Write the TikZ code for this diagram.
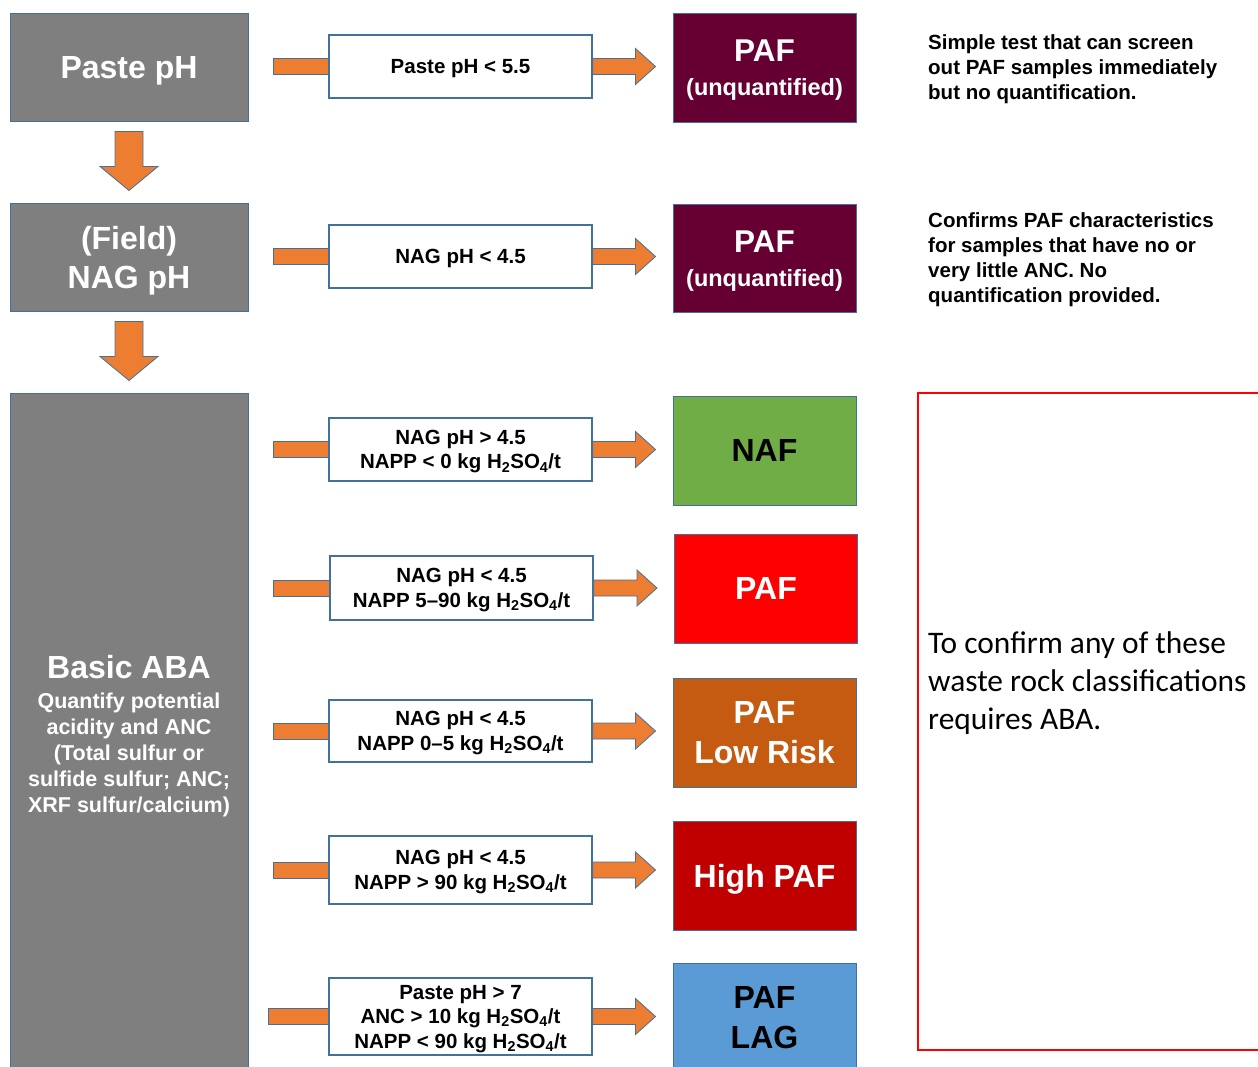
\documentclass[tikz,border=0pt]{standalone}
\usepackage{fontspec}
\setmainfont{Liberation Sans}
\newfontfamily\carlito{Carlito}
\usetikzlibrary{calc}
\definecolor{boxgray}{HTML}{7F7F7F}
\definecolor{edgeblue}{HTML}{41719C}
\definecolor{maroon}{HTML}{660033}
\definecolor{nafgreen}{HTML}{70AD47}
\definecolor{pafred}{HTML}{FF0000}
\definecolor{lowrisk}{HTML}{C55A11}
\definecolor{highpaf}{HTML}{C00000}
\definecolor{lagblue}{HTML}{5B9BD5}
\definecolor{arrorange}{HTML}{ED7D31}
\newcommand\mkdownarrow[2]{\draw[orangeshape] let \p1=(#1.south), \p2=(#2.north) in
 (\x1-14pt,\y1-10pt) -- (\x1+14pt,\y1-10pt) -- (\x1+14pt,\y2+36pt) -- (\x1+29pt,\y2+36pt) -- (\x1,\y2+12pt) -- (\x1-29pt,\y2+36pt) -- (\x1-14pt,\y2+36pt) -- cycle;}
\newcommand\mkrightarrow[2]{\draw[orangeshape] let \p1=(#1.east), \p2=(#2.west) in
 (\x1,\y1+8pt) -- (\x2-37pt,\y1+8pt) -- (\x2-37pt,\y1+18pt) -- (\x2-17pt,\y1) -- (\x2-37pt,\y1-18pt) -- (\x2-37pt,\y1-8pt) -- (\x1,\y1-8pt) -- cycle;}
\newcommand\mkleftbar[3]{\draw[orangeshape] let \p1=(#1.east), \p2=(#2.west) in (\x1+#3,\y2-8pt) rectangle (\x2,\y2+8pt);}
\begin{document}
\begin{tikzpicture}[x=1pt,y=-1pt,
  every node/.style={text depth=0pt},
  orangeshape/.style={fill=arrorange,draw=edgeblue,line width=0.8pt,line join=miter},
  graybox/.style={fill=boxgray,draw=edgeblue,line width=1pt,minimum width=238pt,text=white,align=center,inner sep=0pt},
  midbox/.style={fill=white,draw=edgeblue,line width=1.2pt,minimum width=263pt,align=center,inner sep=0pt,font=\fontsize{20.5}{24.5}\selectfont\bfseries},
  resbox/.style={draw=edgeblue,line width=1pt,minimum width=183pt,minimum height=109pt,align=center,inner sep=0pt,font=\fontsize{32}{40}\selectfont\bfseries},
  unqbox/.style={resbox,fill=maroon,text=white,font=\fontsize{23.5}{34}\selectfont\bfseries},
  note/.style={anchor=west,align=left,inner sep=0pt,font=\fontsize{20.5}{25}\selectfont\bfseries}]
\useasboundingbox (0,0) rectangle (1258,1066);
\clip (0,0) rectangle (1258,1066);
% left column
\node[graybox,minimum height=108pt,font=\fontsize{32}{39}\selectfont\bfseries] (g1) at (129,67) {Paste pH};
\node[graybox,minimum height=108pt,font=\fontsize{32}{39}\selectfont\bfseries] (g2) at (129,257) {(Field)\\NAG pH};
\node[graybox,minimum height=680pt] (g3) at (129,733) {};
\node[text=white,inner sep=0pt,font=\fontsize{32}{34}\selectfont\bfseries] (g3a) at (129,667) {Basic ABA};
\node[text=white,align=center,inner sep=0pt,font=\fontsize{21.5}{26}\selectfont\bfseries] (g3b) at (129,752.5)
 {Quantify potential\\acidity and ANC\\(Total sulfur or\\sulfide sulfur; ANC;\\XRF sulfur/calcium)};
\mkdownarrow{g1}{g2}
\mkdownarrow{g2}{g3}
% middle column
\node[midbox,minimum height=63pt] (m1) at (460.5,66.5) {Paste pH < 5.5};
\node[midbox,minimum height=63pt] (m2) at (460.5,256.5) {NAG pH < 4.5};
\node[midbox,minimum height=63pt] (m3) at (460.5,449.5) {NAG pH > 4.5\\NAPP < 0 kg H\textsubscript{2}SO\textsubscript{4}/t};
\node[midbox,minimum height=64pt] (m4) at (461.5,588) {NAG pH < 4.5\\NAPP 5–90 kg H\textsubscript{2}SO\textsubscript{4}/t};
\node[midbox,minimum height=62pt] (m5) at (460.5,731) {NAG pH < 4.5\\NAPP 0–5 kg H\textsubscript{2}SO\textsubscript{4}/t};
\node[midbox,minimum height=68pt] (m6) at (460.5,870) {NAG pH < 4.5\\NAPP > 90 kg H\textsubscript{2}SO\textsubscript{4}/t};
\node[midbox,minimum height=77pt] (m7) at (460.5,1016.5) {Paste pH > 7\\ANC > 10 kg H\textsubscript{2}SO\textsubscript{4}/t\\NAPP < 90 kg H\textsubscript{2}SO\textsubscript{4}/t};
% result column
\node[unqbox] (r1) at (764.5,68) {{\fontsize{31.5}{34}\selectfont PAF}\\(unquantified)};
\node[unqbox,minimum height=108pt] (r2) at (764.5,258.5) {{\fontsize{31.5}{34}\selectfont PAF}\\(unquantified)};
\node[resbox,fill=nafgreen,text=black] (r3) at (764.5,450.5) {NAF};
\node[resbox,fill=pafred,text=white] (r4) at (766,588.5) {PAF};
\node[resbox,fill=lowrisk,text=white] (r5) at (764.5,732.5) {PAF\\Low Risk};
\node[resbox,fill=highpaf,text=white] (r6) at (764.5,875.5) {High PAF};
\node[resbox,fill=lagblue,text=black] (r7) at (764.5,1017.5) {PAF\\LAG};
% connectors
\mkleftbar{g1}{m1}{25pt}
\mkleftbar{g2}{m2}{25pt}
\mkleftbar{g3}{m3}{25pt}
\mkleftbar{g3}{m4}{25pt}
\mkleftbar{g3}{m5}{25pt}
\mkleftbar{g3}{m6}{25pt}
\mkleftbar{g3}{m7}{20pt}
\mkrightarrow{m1}{r1}
\mkrightarrow{m2}{r2}
\mkrightarrow{m3}{r3}
\mkrightarrow{m4}{r4}
\mkrightarrow{m5}{r5}
\mkrightarrow{m6}{r6}
\mkrightarrow{m7}{r7}
% notes
\node[note] (n1) at (928,67) {Simple test that can screen\\out PAF samples immediately\\but no quantification.};
\node[note] (n2) at (928,257.5) {Confirms PAF characteristics\\for samples that have no or\\very little ANC. No\\quantification provided.};
\draw[pafred,line width=1.5pt] (1270,393) -- (918,393) -- (918,1050) -- (1270,1050);
\node[anchor=west,align=left,inner sep=0pt,font=\carlito\fontsize{31.4}{38}\selectfont] (n3) at (928,681) {To confirm any of these\\waste rock classifications\\requires ABA.};
\end{tikzpicture}
\end{document}
